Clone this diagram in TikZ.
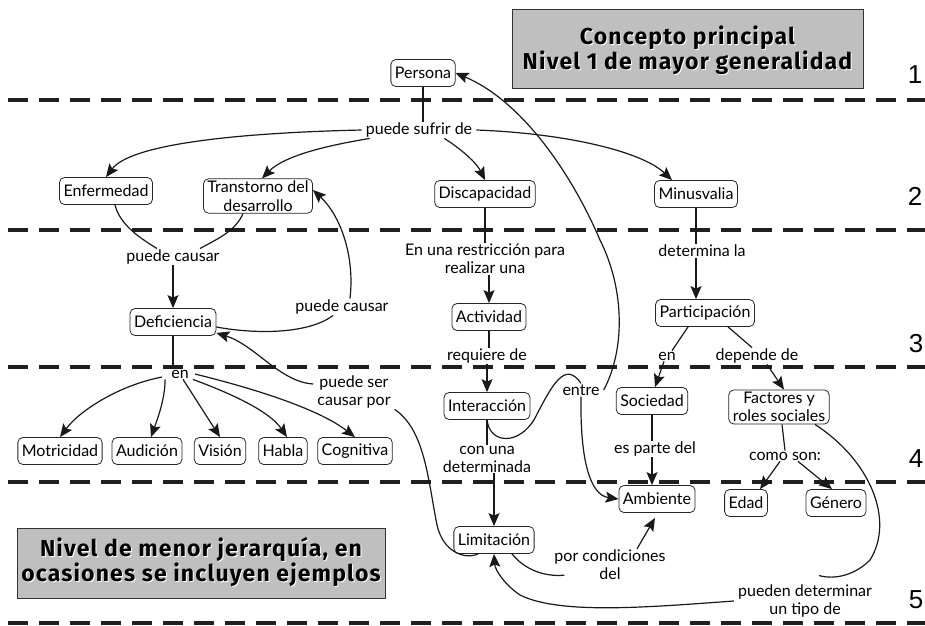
\documentclass[tikz,border=0pt]{standalone}
\usepackage{fontspec}
\setmainfont{Lato}
\newfontfamily\numfont{Liberation Sans}
\newfontfamily\hdrfont[LetterSpace=5]{Fira Sans}
\usetikzlibrary{arrows.meta,calc}
\begin{document}
\begin{tikzpicture}[x=1pt,y=-1pt,
  box/.style={draw=black!85, line width=0.8pt, rounded corners=5pt, fill=white,
    inner xsep=4pt, inner ysep=2pt, minimum height=27pt, align=center,
    font=\fontsize{16}{18.5}\selectfont},
  lbl/.style={inner xsep=4pt, inner ysep=1pt, align=center, font=\fontsize{16}{18}\selectfont},
  con/.style={line width=1.2pt, black!90},
  arr/.style={con, -{Stealth[length=13pt,width=11pt,inset=2.5pt]}},
  dashline/.style={line width=4pt, dash pattern=on 20pt off 11pt, black!88},
  numlbl/.style={font=\numfont\fontsize{26}{26}\selectfont},
  gbox/.style={draw=black!80, fill=black!25, line width=0.8pt},
  hdr/.style={font=\hdrfont\bfseries\fontsize{23}{22.5}\selectfont, align=center}
]
\useasboundingbox (0,0) rectangle (925,625);

% level separators
\foreach \yy in {100,230,366.5,482,623} \draw[dashline] (8,\yy) -- (925,\yy);

% level numbers
\node[numlbl] (n1) at (915,75) {1};
\node[numlbl] (n2) at (915,196) {2};
\node[numlbl] (n3) at (916,344) {3};
\node[numlbl] (n4) at (916,459) {4};
\node[numlbl] (n5) at (916,600) {5};

% grey boxes
\draw[gbox] (512,9) rectangle (863,88);
\node[hdr, white] (h1s) at (688.5,51.5) {Concepto principal\\Nivel 1 de mayor generalidad};
\node[hdr] (h1) at (687.5,50.5) {Concepto principal\\Nivel 1 de mayor generalidad};
\draw[gbox] (17,528) rectangle (385,598);
\node[hdr, white] (h2s) at (202,563) {Nivel de menor jerarquía, en\\ocasiones se incluyen ejemplos};
\node[hdr] (h2) at (201,562) {Nivel de menor jerarquía, en\\ocasiones se incluyen ejemplos};

% concepts
\node[box] (Persona) at (423,73) {Persona};
\node[box] (Enfermedad) at (106,191) {Enfermedad};
\node[box] (Transtorno) at (258,196) {Transtorno del\\desarrollo};
\node[box] (Discapacidad) at (485,194) {Discapacidad};
\node[box] (Minusvalia) at (696,194) {Minusvalia};
\node[box] (Deficiencia) at (173,322) {Deficiencia};
\node[box] (Actividad) at (489,317) {Actividad};
\node[box] (Participacion) at (705,313) {Participación};
\node[box] (Interaccion) at (487,406) {Interacción};
\node[box] (Sociedad) at (652,401) {Sociedad};
\node[box] (Factores) at (779,407) {Factores y\\roles sociales};
\node[box] (Motricidad) at (60,451) {Motricidad};
\node[box] (Audicion) at (147,451) {Audición};
\node[box] (Vision) at (220,451) {Visión};
\node[box] (Habla) at (283,451) {Habla};
\node[box] (Cognitiva) at (355,451) {Cognitiva};
\node[box] (Ambiente) at (657,499) {Ambiente};
\node[box] (Edad) at (746,503) {Edad};
\node[box] (Genero) at (836,503) {Género};
\node[box] (Limitacion) at (494,540) {Limitación};

% linking phrases
\node[lbl] (sufrir) at (419,130) {puede sufrir de};
\node[lbl] (causar1) at (173,257) {puede causar};
\node[lbl] (causar2) at (342,307) {puede causar};
\node[lbl] (restric) at (485,259) {En una restricción para\\realizar una};
\node[lbl] (determina) at (702,251) {determina la};
\node[lbl] (en1) at (180,374) {en};
\node[lbl] (causarpor) at (354,392) {puede ser\\causar por};
\node[lbl] (requiere) at (487,356) {requiere de};
\node[lbl] (en2) at (667,356) {en};
\node[lbl] (depende) at (757,356) {depende de};
\node[lbl] (entre) at (581,390) {entre};
\node[lbl] (conuna) at (487,459) {con una\\determinada};
\node[lbl] (esparte) at (655,449) {es parte del};
\node[lbl] (comoson) at (785,456) {como son:};
\node[lbl] (porcond) at (610,565) {por condiciones\\del};
\node[lbl] (pueden) at (805,601) {pueden determinar\\un tipo de};

% connectors
\draw[con] (Persona.south) -- (Persona.south |- sufrir.north);
\draw[arr] (sufrir.west) .. controls (230,133) and (130,145) .. (Enfermedad.north);
\draw[arr] ([xshift=8pt]sufrir.south west) .. controls (330,145) and (285,155) .. ([xshift=4pt]Transtorno.north);
\draw[arr] ([xshift=-32pt]sufrir.south east) .. controls (455,145) and (475,160) .. (Discapacidad.north);
\draw[arr] (sufrir.east) .. controls (560,133) and (640,150) .. ([xshift=-24pt]Minusvalia.north);

\draw[con] ([xshift=9pt]Enfermedad.south) .. controls (120,225) and (140,238) .. ([xshift=-16pt]causar1.north);
\draw[con] ([xshift=-15pt]Transtorno.south) .. controls (235,232) and (215,240) .. ([xshift=27pt]causar1.north);
\draw[arr] (causar1.south) -- (Deficiencia.north);

\draw[con] ([yshift=-5pt]Deficiencia.east) .. controls (260,335) and (310,333) .. ([xshift=-9pt]causar2.south);
\draw[arr] ([xshift=8pt]causar2.north) .. controls (355,255) and (340,215) .. ([yshift=6pt]Transtorno.east);

\draw[con] (Deficiencia.south) -- (Deficiencia.south |- en1.north);
\draw[arr] ([xshift=-5pt,yshift=-3pt]en1.west) .. controls (120,385) and (80,410) .. (Motricidad.north);
\draw[arr] ([xshift=-2pt]en1.south west) .. controls (165,400) and (157,420) .. ([xshift=4pt]Audicion.north);
\draw[arr] ([xshift=3pt]en1.south) -- (Vision.north);
\draw[arr] (en1.south east) .. controls (235,395) and (270,412) .. ([xshift=4pt]Habla.north);
\draw[arr] ([xshift=2pt]en1.east) .. controls (260,390) and (320,410) .. (Cognitiva.north);

\draw[arr] ([yshift=8pt]causarpor.west) .. controls (280,382) and (255,345) .. ([yshift=3pt]Deficiencia.south east);
\draw[con] (causarpor.south east) .. controls (425,430) and (428,480) .. (437,525)
  .. controls (443,552) and (465,560) .. ([xshift=-16pt]Limitacion.south);

\draw[con] (Discapacidad.south) -- (Discapacidad.south |- restric.north);
\draw[arr] (Actividad.north |- restric.south) -- (Actividad.north);
\draw[con] (Actividad.south) -- (Actividad.south |- requiere.north);
\draw[arr] (Interaccion.north |- requiere.south) -- (Interaccion.north);
\draw[con] (Interaccion.south) -- (Interaccion.south |- conuna.north);
\draw[arr] (Limitacion.north |- conuna.south) -- (Limitacion.north);

\draw[con] (Interaccion.south) .. controls (490,445) and (520,445) .. (535,418)
  .. controls (552,385) and (565,360) .. (entre.north);
\draw[arr] (entre.east) .. controls (625,350) and (625,290) .. (600,240)
  .. controls (570,170) and (520,100) .. (Persona.east);
\draw[arr] (entre.south) .. controls (580,460) and (590,495) .. (Ambiente.west);

\draw[con] (Minusvalia.south) -- (Minusvalia.south |- determina.north);
\draw[arr] (Minusvalia.south |- determina.south) -- (Minusvalia.south |- Participacion.north);
\draw[con] ([xshift=-17pt]Participacion.south) -- ([xshift=5pt]en2.north);
\draw[arr] ([xshift=-3pt]en2.south) -- ([xshift=3pt]Sociedad.north);
\draw[con] ([xshift=23pt]Participacion.south) -- ([xshift=-5pt]depende.north);
\draw[arr] ([xshift=10pt]depende.south) -- ([xshift=5pt]Factores.north);

\draw[con] (Sociedad.south) -- (Sociedad.south |- esparte.north);
\draw[arr] (Sociedad.south |- esparte.south) -- (Sociedad.south |- Ambiente.north);

\draw[con] ([xshift=3pt]Factores.south) -- (comoson.north);
\draw[arr] ([xshift=-5pt]comoson.south) -- ([xshift=14pt]Edad.north);
\draw[arr] ([xshift=13pt]comoson.south) -- ([xshift=-4pt]Genero.north);

\draw[con] ([xshift=36pt]Factores.south) .. controls (870,460) and (895,520) .. (870,560)
  .. controls (855,575) and (835,580) .. ([xshift=14pt,yshift=8pt]pueden.north);
\draw[arr] (pueden.west) .. controls (650,607) and (560,615) .. (520,595)
  .. controls (505,585) and (495,570) .. (Limitacion.south);

\draw[con] ([xshift=18pt]Limitacion.south) .. controls (525,570) and (545,577) .. ($(porcond.south west)+(14,-6)$);
\draw[arr] ([xshift=27pt]porcond.north) -- ([xshift=-2pt,yshift=-5pt]Ambiente.south);

\end{tikzpicture}
\end{document}
